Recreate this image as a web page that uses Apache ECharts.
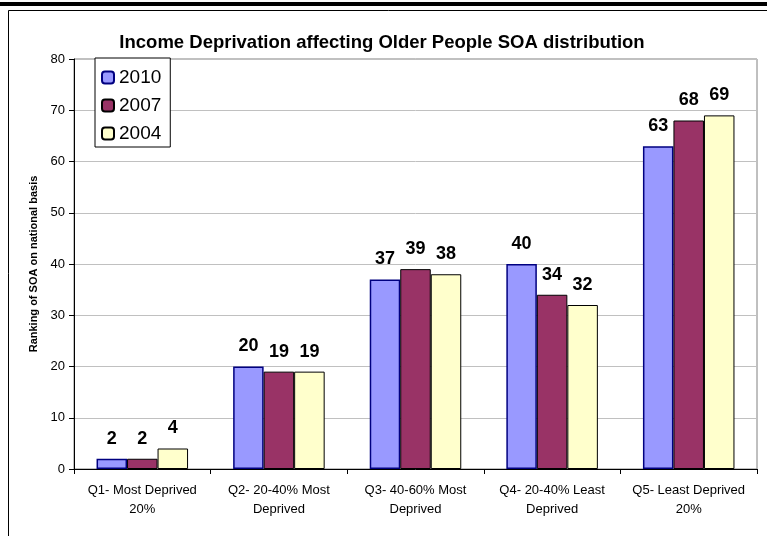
<!DOCTYPE html>
<html>
<head>
<meta charset="utf-8">
<script src="https://cdn.jsdelivr.net/npm/echarts@6/dist/echarts.min.js"></script>
<style>
  html, body { margin: 0; padding: 0; background: #fff; }
  #chart { width: 767px; height: 536px; }
</style>
</head>
<body>
<div id="chart"></div>
<script>
  const categories = [
    'Q1- Most Deprived\n20%',
    'Q2- 20-40% Most\nDeprived',
    'Q3- 40-60% Most\nDeprived',
    'Q4- 20-40% Least\nDeprived',
    'Q5- Least Deprived\n20%'
  ];
  const data2010 = [2, 20, 37, 40, 63];
  const data2007 = [2, 19, 39, 34, 68];
  const data2004 = [4, 19, 38, 32, 69];

  const labelStyle = {
    show: true,
    position: 'top',
    distance: 11,
    fontFamily: 'Arial, Liberation Sans',
    fontWeight: 'bold',
    fontSize: 18,
    color: '#000'
  };

  const chart = echarts.init(document.getElementById('chart'));
  chart.setOption({
    backgroundColor: '#fff',
    animation: false,
    textStyle: { fontFamily: 'Arial, Liberation Sans' },
    graphic: [
      { type: 'rect', shape: { x: 0, y: 2, width: 767, height: 4 }, style: { fill: '#000' } },
      { type: 'rect', shape: { x: 8.5, y: 10.5, width: 770, height: 540 }, style: { fill: 'none', stroke: '#000', lineWidth: 1 } }
    ],
    title: {
      text: 'Income Deprivation affecting Older People SOA distribution',
      left: 377,
      textAlign: 'center',
      top: 28,
      textStyle: { fontFamily: 'Arial, Liberation Sans', fontWeight: 'bold', fontSize: 18.5, color: '#000' }
    },
    legend: {
      orient: 'vertical',
      left: 95,
      top: 58,
      padding: [10, 9, 4, 6],
      itemGap: 9,
      backgroundColor: '#fff',
      borderColor: '#000',
      borderWidth: 1,
      itemWidth: 12,
      itemHeight: 12,
      textStyle: { fontSize: 19, color: '#000', fontFamily: 'Arial, Liberation Sans' },
      data: ['2010', '2007', '2004']
    },
    grid: { left: 74, right: 10, top: 59, bottom: 67, show: true, borderColor: '#808080', borderWidth: 1 },
    xAxis: {
      type: 'category',
      data: categories,
      axisLine: { lineStyle: { color: '#000', width: 1 } },
      axisTick: { show: true, length: 5, lineStyle: { color: '#000' } },
      axisLabel: { color: '#000', fontSize: 13, lineHeight: 19, margin: 12, interval: 0 }
    },
    yAxis: {
      type: 'value',
      min: 0,
      max: 80,
      interval: 10,
      name: 'Ranking of SOA on national basis',
      nameLocation: 'middle',
      nameGap: 35,
      nameTextStyle: { fontSize: 11, fontWeight: 'bold', color: '#000' },
      axisLine: { show: true, lineStyle: { color: '#000' } },
      axisTick: { show: true, length: 5, lineStyle: { color: '#000' } },
      axisLabel: { color: '#000', fontSize: 13, margin: 9 },
      splitLine: { show: true, lineStyle: { color: '#c0c0c0', width: 1 } }
    },
    series: [
      {
        name: '2010', type: 'bar', data: data2010,
        barGap: '0%', barCategoryGap: '33%',
        itemStyle: { color: '#9999ff', borderColor: '#000080', borderWidth: 1.5 },
        label: labelStyle
      },
      {
        name: '2007', type: 'bar', data: data2007,
        itemStyle: { color: '#993366', borderColor: '#000', borderWidth: 1 },
        label: labelStyle
      },
      {
        name: '2004', type: 'bar', data: data2004,
        itemStyle: { color: '#ffffcc', borderColor: '#000', borderWidth: 1 },
        label: labelStyle
      }
    ]
  });
</script>
</body>
</html>
